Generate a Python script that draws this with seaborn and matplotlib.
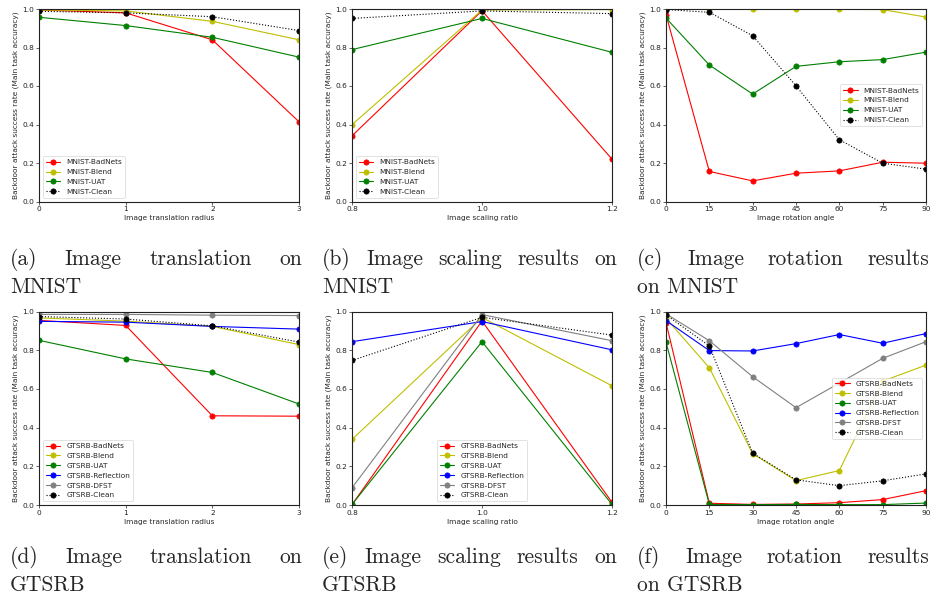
import matplotlib
matplotlib.use("Agg")
import matplotlib.pyplot as plt
import pandas as pd
import seaborn as sns

# ── данные ──
TRANSLATION_RADIUS = [0, 1, 2, 3]
SCALING_RATIO = [0.8, 1.0, 1.2]
ROTATION_ANGLE = [0, 15, 30, 45, 60, 75, 90]

MNIST_METHODS = ["MNIST-BadNets", "MNIST-Blend", "MNIST-UAT", "MNIST-Clean"]
GTSRB_METHODS = ["GTSRB-BadNets", "GTSRB-Blend", "GTSRB-UAT",
                 "GTSRB-Reflection", "GTSRB-DFST", "GTSRB-Clean"]

mnist_translation = {
    "MNIST-BadNets": [0.995, 0.98, 0.84, 0.414],
    "MNIST-Blend": [0.995, 0.99, 0.936, 0.84],
    "MNIST-UAT": [0.957, 0.914, 0.853, 0.75],
    "MNIST-Clean": [0.988, 0.98, 0.96, 0.888],
}
mnist_scaling = {
    "MNIST-BadNets": [0.341, 0.991, 0.22],
    "MNIST-Blend": [0.399, 0.995, 0.997],
    "MNIST-UAT": [0.789, 0.951, 0.775],
    "MNIST-Clean": [0.951, 0.99, 0.976],
}
mnist_rotation = {
    "MNIST-BadNets": [0.97, 0.156, 0.107, 0.147, 0.159, 0.204, 0.199],
    "MNIST-Blend": [1.0, 0.998, 0.998, 0.998, 0.998, 0.997, 0.958],
    "MNIST-UAT": [0.953, 0.709, 0.558, 0.702, 0.726, 0.737, 0.776],
    "MNIST-Clean": [0.997, 0.983, 0.861, 0.601, 0.321, 0.199, 0.168],
}
gtsrb_translation = {
    "GTSRB-BadNets": [0.954, 0.928, 0.461, 0.459],
    "GTSRB-Blend": [0.967, 0.95, 0.923, 0.829],
    "GTSRB-UAT": [0.851, 0.755, 0.685, 0.522],
    "GTSRB-Reflection": [0.949, 0.945, 0.923, 0.909],
    "GTSRB-DFST": [0.985, 0.985, 0.981, 0.979],
    "GTSRB-Clean": [0.974, 0.961, 0.926, 0.842],
}
gtsrb_scaling = {
    "GTSRB-BadNets": [0.002, 0.951, 0.014],
    "GTSRB-Blend": [0.339, 0.969, 0.616],
    "GTSRB-UAT": [0.003, 0.844, 0.003],
    "GTSRB-Reflection": [0.844, 0.948, 0.802],
    "GTSRB-DFST": [0.089, 0.984, 0.849],
    "GTSRB-Clean": [0.747, 0.97, 0.878],
}
gtsrb_rotation = {
    "GTSRB-BadNets": [0.943, 0.009, 0.003, 0.005, 0.012, 0.028, 0.074],
    "GTSRB-Blend": [0.965, 0.709, 0.265, 0.126, 0.178, 0.64, 0.723],
    "GTSRB-UAT": [0.841, 0.003, 0.002, 0.003, 0.002, 0.002, 0.01],
    "GTSRB-Reflection": [0.953, 0.798, 0.796, 0.834, 0.881, 0.836, 0.886],
    "GTSRB-DFST": [0.988, 0.849, 0.663, 0.503, 0.63, 0.758, 0.844],
    "GTSRB-Clean": [0.983, 0.822, 0.268, 0.13, 0.1, 0.125, 0.161],
}

COLORS = {"BadNets": "#ff0000", "Blend": "#bfbf00", "UAT": "#008000",
          "Reflection": "#0000ff", "DFST": "#808080", "Clean": "#000000"}

CAPTIONS = [
    ("(a) Image translation on", "MNIST"),
    ("(b) Image scaling results on", "MNIST"),
    ("(c) Image rotation results", "on MNIST"),
    ("(d) Image translation on", "GTSRB"),
    ("(e) Image scaling results on", "GTSRB"),
    ("(f) Image rotation results", "on GTSRB"),
]

sns.set_style("ticks")
plt.rcParams.update({
    "font.family": ["DejaVu Sans"],
    "font.size": 5.3,
    "axes.edgecolor": "#222222",
    "axes.linewidth": 0.8,
    "xtick.major.size": 2,
    "ytick.major.size": 2,
    "xtick.major.width": 0.5,
    "ytick.major.width": 0.5,
    "xtick.major.pad": 1.5,
    "ytick.major.pad": 1.5,
    "xtick.color": "#222222",
    "ytick.color": "#222222",
})

W, H = 933, 602
fig = plt.figure(figsize=(W / 100, H / 100), dpi=100)

col_left = [39, 352, 666]
ax_w = 260
rows = [(9, 201.5), (311.5, 505)]

panels = [
    (mnist_translation, MNIST_METHODS, TRANSLATION_RADIUS, "Image translation radius", "lower left"),
    (mnist_scaling, MNIST_METHODS, SCALING_RATIO, "Image scaling ratio", "lower left"),
    (mnist_rotation, MNIST_METHODS, ROTATION_ANGLE, "Image rotation angle", "center right"),
    (gtsrb_translation, GTSRB_METHODS, TRANSLATION_RADIUS, "Image translation radius", "lower left"),
    (gtsrb_scaling, GTSRB_METHODS, SCALING_RATIO, "Image scaling ratio", "lower center"),
    (gtsrb_rotation, GTSRB_METHODS, ROTATION_ANGLE, "Image rotation angle", "center right"),
]

for i, (data, methods, xs, xlabel, loc) in enumerate(panels):
    r, c = divmod(i, 3)
    top, bot = rows[r]
    ax = fig.add_axes([col_left[c] / W, 1 - bot / H, ax_w / W, (bot - top) / H])
    for m in methods:
        key = m.split("-")[1]
        df = pd.DataFrame({"x": xs, "y": data[m]})
        sns.lineplot(data=df, x="x", y="y", ax=ax, color=COLORS[key],
                     marker="o", markersize=3.8, markeredgecolor=COLORS[key],
                     markeredgewidth=0.5, linewidth=0.8,
                     linestyle=":" if key == "Clean" else "-",
                     label=m, estimator=None, errorbar=None, sort=False, legend=False)
    ax.set_xlim(xs[0], xs[-1])
    ax.set_ylim(0, 1)
    ax.set_xticks(xs)
    if xs == SCALING_RATIO:
        ax.set_xticklabels([f"{v:.1f}" for v in xs])
    ax.set_yticks([0, 0.2, 0.4, 0.6, 0.8, 1.0])
    ax.set_yticklabels(["0.0", "0.2", "0.4", "0.6", "0.8", "1.0"])
    ax.set_xlabel(xlabel, fontsize=5.3, labelpad=2)
    ax.set_ylabel("Backdoor attack success rate (Main task accuracy)", fontsize=5.3, labelpad=2)
    ax.tick_params(labelsize=5.3)
    for s in ax.spines.values():
        s.set_visible(True)
    leg = ax.legend(loc=loc, fontsize=5.3, frameon=True, handlelength=2.0,
                    borderpad=0.4, labelspacing=0.5, handletextpad=0.8)
    leg.get_frame().set_linewidth(0.5)
    leg.get_frame().set_edgecolor("#cccccc")

# ── подписи под графиками, выровненные по ширине ──
fig.canvas.draw()
renderer = fig.canvas.get_renderer()
cap_left = [10, 322, 637]
cap_right = [302, 617, 929]
cap_base = [(265, 293), (563, 591)]
cap_kw = dict(fontfamily="cmr10", fontsize=15.5, va="baseline", ha="left")

for i, (line1, line2) in enumerate(CAPTIONS):
    r, c = divmod(i, 3)
    y1, y2 = cap_base[r]
    words = line1.split()
    arts = [fig.text(0, 1 - y1 / H, w, **cap_kw) for w in words]
    widths = [a.get_window_extent(renderer).width for a in arts]
    gap = (cap_right[c] - cap_left[c] - sum(widths)) / (len(words) - 1)
    x = cap_left[c]
    for a, w in zip(arts, widths):
        a.set_x(x / W)
        x += w + gap
    fig.text(cap_left[c] / W, 1 - y2 / H, line2, **cap_kw)

fig.savefig("out.png", dpi=100)
